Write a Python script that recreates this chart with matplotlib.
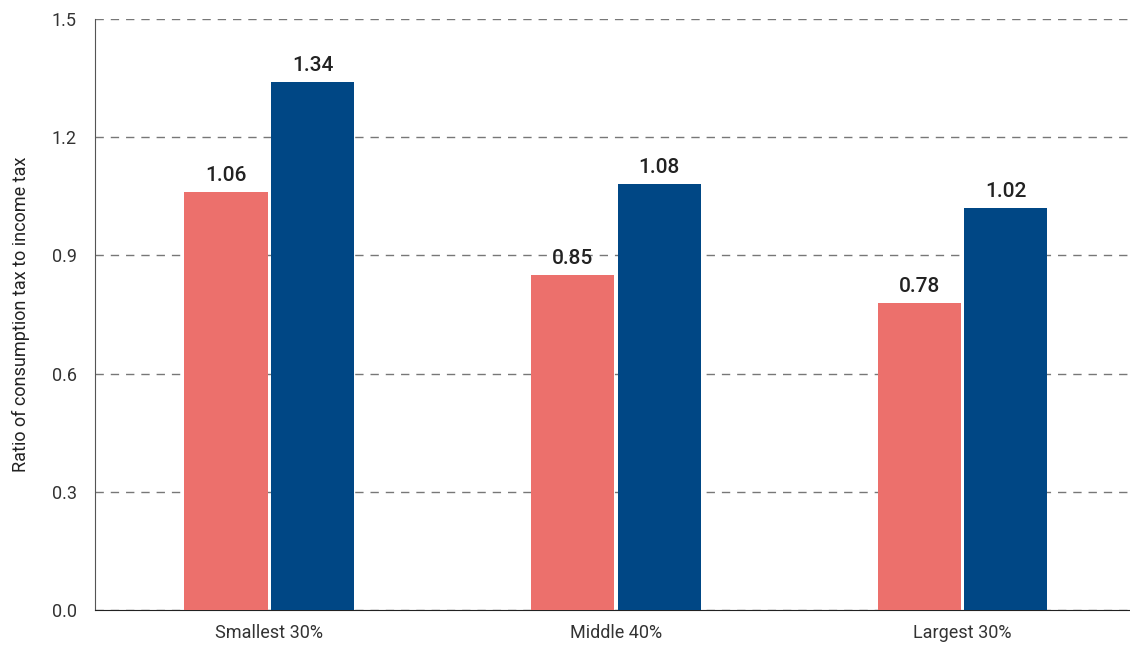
import matplotlib.pyplot as plt
import numpy as np

# Data
categories = ['Smallest 30%', 'Middle 40%', 'Largest 30%']
series_a = [1.06, 0.85, 0.78]
series_b = [1.34, 1.08, 1.02]
y_ticks = [0.0, 0.3, 0.6, 0.9, 1.2, 1.5]

plt.rcParams['font.family'] = ['Roboto', 'DejaVu Sans']

fig = plt.figure(figsize=(11.3, 6.5), dpi=100)
ax = fig.add_axes([0.084, 0.0615, 0.916, 0.9095])

x = np.arange(len(categories))
w = 0.24
off = 0.125
bars_a = ax.bar(x - off, series_a, width=w, color='#EC706C', zorder=3)
bars_b = ax.bar(x + off, series_b, width=w, color='#004785', zorder=3)

for bars, vals in [(bars_a, series_a), (bars_b, series_b)]:
    for b, v in zip(bars, vals):
        ax.annotate(f'{v:.2f}', (b.get_x() + b.get_width() / 2, v),
                    xytext=(0, 5), textcoords='offset points',
                    ha='center', va='bottom', fontsize=15, fontweight='medium',
                    color='#222222')

ax.set_xlim(-0.503, 2.483)
ax.set_ylim(0, 1.5)
ax.set_yticks(y_ticks)
ax.set_yticklabels([f'{t:.1f}' for t in y_ticks], fontsize=13, color='#333333')
ax.set_xticks(x)
ax.set_xticklabels(categories, fontsize=13, color='#333333')
ax.tick_params(length=0, pad=13)
ax.tick_params(axis='x', pad=10)
ax.set_ylabel('Ratio of consumption tax to income tax', fontsize=13,
              color='#222222', labelpad=16)

ax.yaxis.grid(True, linestyle=(0, (6, 5)), color='#777777', linewidth=1, zorder=0)
ax.spines['top'].set_visible(False)
ax.spines['right'].set_visible(False)
ax.spines['left'].set_color('#555555')
ax.spines['bottom'].set_color('#222222')

fig.savefig('out.png', dpi=100)
